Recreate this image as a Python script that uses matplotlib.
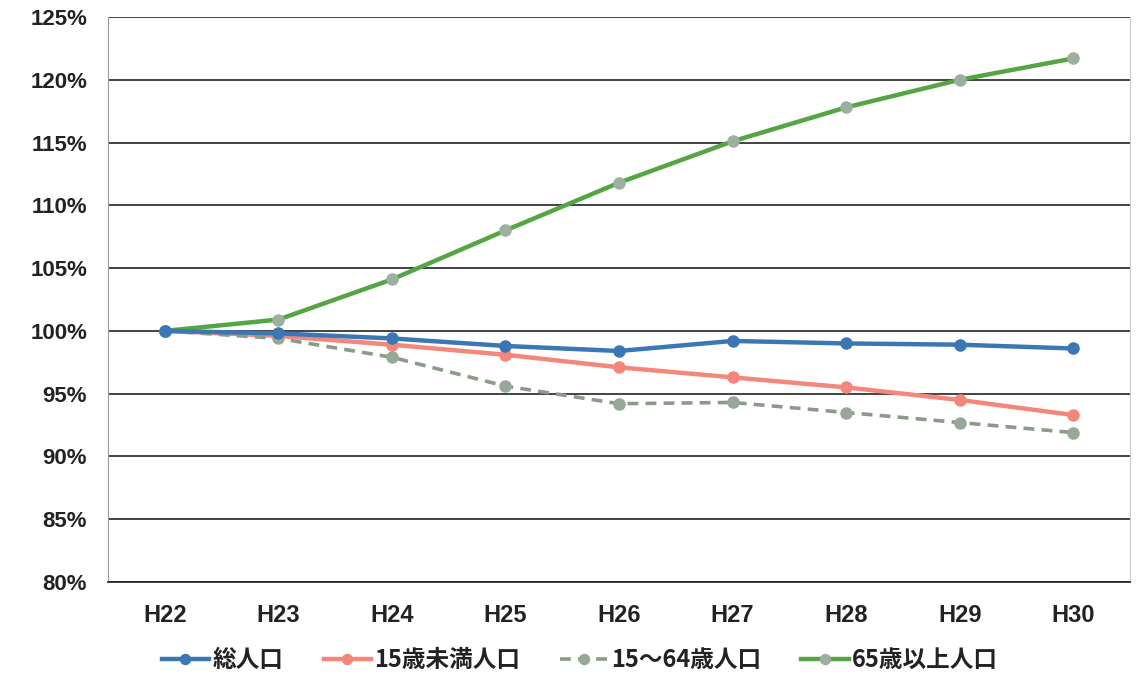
import matplotlib
matplotlib.use("Agg")
import matplotlib.pyplot as plt
from matplotlib.ticker import FuncFormatter

years = ["H22", "H23", "H24", "H25", "H26", "H27", "H28", "H29", "H30"]
total = [100.0, 99.8, 99.4, 98.8, 98.4, 99.2, 99.0, 98.9, 98.6]
under15 = [100.0, 99.6, 98.9, 98.1, 97.1, 96.3, 95.5, 94.5, 93.3]
age15_64 = [100.0, 99.4, 97.9, 95.6, 94.2, 94.3, 93.5, 92.7, 91.9]
over65 = [100.0, 100.9, 104.1, 108.0, 111.8, 115.1, 117.8, 120.0, 121.7]
labels = ["総人口", "15歳未満人口", "15～64歳人口", "65歳以上人口"]
yticks = [80, 85, 90, 95, 100, 105, 110, 115, 120, 125]

plt.rcParams['font.family'] = ['Noto Sans CJK JP', 'DejaVu Sans']

fig = plt.figure(figsize=(11.48, 6.79), dpi=100)
ax = fig.add_axes([108 / 1148, 1 - 582 / 679, (1130 - 108) / 1148, (582 - 17) / 679])

x = list(range(len(years)))
ax.plot(x, total, color="#3b77b3", lw=3.2, marker="o", ms=8,
        markerfacecolor="#3b77b3", markeredgecolor="#3b77b3", label=labels[0], zorder=4)
ax.plot(x, under15, color="#f4877c", lw=3.2, marker="o", ms=8,
        markerfacecolor="#f4877c", markeredgecolor="#f4877c", label=labels[1], zorder=3)
ax.plot(x, age15_64, color="#8c9a8a", lw=2.6, ls=(0, (3, 2)), marker="o", ms=8,
        markerfacecolor="#98a898", markeredgecolor="#98a898", label=labels[2], zorder=3)
ax.plot(x, over65, color="#55a544", lw=3.2, marker="o", ms=8,
        markerfacecolor="#9db0a0", markeredgecolor="#9db0a0", label=labels[3], zorder=3)

ax.set_xlim(-0.5, len(years) - 0.5)
ax.set_ylim(80, 125)
ax.set_yticks(yticks)
ax.yaxis.set_major_formatter(FuncFormatter(lambda v, p: f"{v:.0f}%"))
ax.set_xticks(x)
ax.set_xticklabels(years)
ax.grid(axis="y", color="#222222", lw=1.2)
ax.set_axisbelow(True)
ax.tick_params(axis="both", length=0)
ax.tick_params(axis="y", pad=15)
ax.tick_params(axis="x", pad=16)
for lab in ax.get_yticklabels():
    lab.set_fontfamily(['Liberation Sans', 'DejaVu Sans'])
    lab.set_fontsize(16)
    lab.set_fontweight('bold')
    lab.set_color("#222222")
for lab in ax.get_xticklabels():
    lab.set_fontfamily(['Liberation Sans', 'DejaVu Sans'])
    lab.set_fontsize(17)
    lab.set_fontweight('bold')
    lab.set_color("#222222")

ax.spines["top"].set_visible(False)
ax.spines["left"].set_color("#999999")
ax.spines["right"].set_color("#cccccc")
ax.spines["bottom"].set_color("#222222")
ax.spines["bottom"].set_linewidth(1.2)

leg = fig.legend(loc="center", bbox_to_anchor=(580 / 1148, 1 - 660 / 679), ncol=4,
                 frameon=False, prop={'family': ['Noto Sans CJK JP', 'DejaVu Sans'],
                                      'size': 17, 'weight': 'bold'},
                 handlelength=2.0, columnspacing=1.7, handletextpad=0.15, markerscale=0.9)
for t in leg.get_texts():
    t.set_color("#222222")

fig.savefig("out.png", dpi=100, facecolor="white")
